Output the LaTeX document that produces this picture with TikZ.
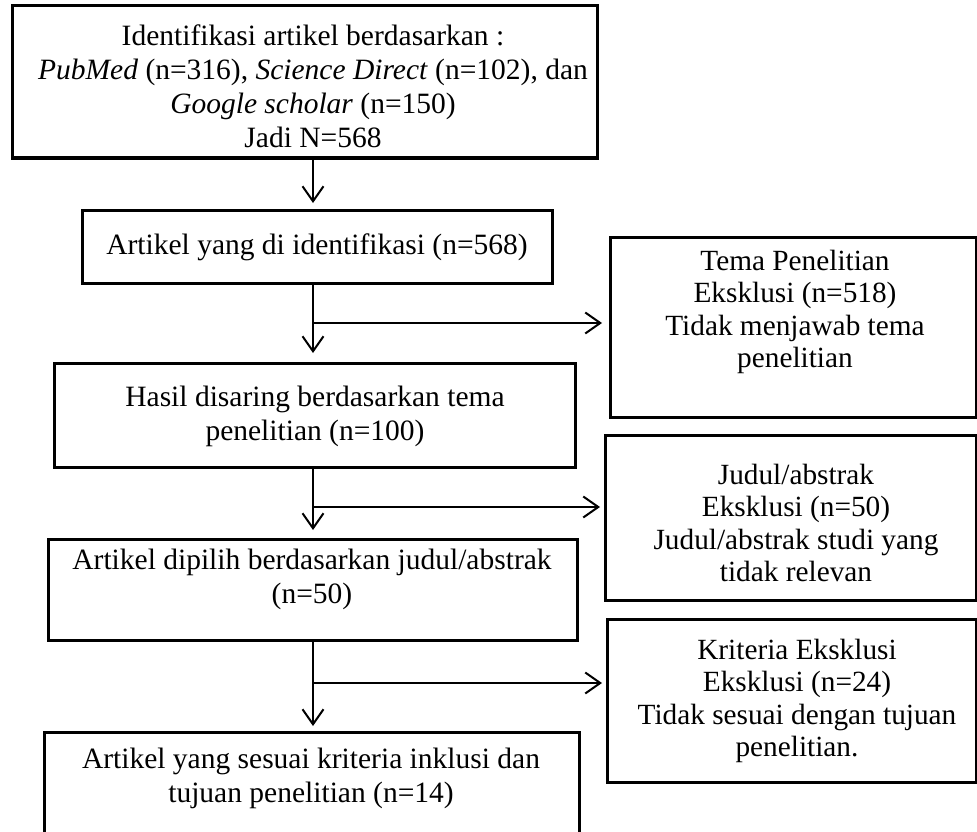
\documentclass[tikz,border=0pt]{standalone}
\usepackage{fontspec}
\setmainfont{Liberation Serif}
\usetikzlibrary{arrows.meta}
\begin{document}
\begin{tikzpicture}[x=1pt,y=-1pt,
  boxr/.style={draw,line width=3pt,inner sep=0pt,outer sep=0pt,anchor=north west},
  txt/.style={align=center,inner sep=0pt,font=\fontsize{29.5pt}{34pt}\selectfont},
  txtr/.style={align=center,inner sep=0pt,font=\fontsize{29.3pt}{32.5pt}\selectfont},
  arr/.style={line width=2pt,-{Straight Barb[length=15pt,width=21pt,line width=2pt]}}]
\clip (0,0) rectangle (977,832);
\fill[white] (0,0) rectangle (977,832);
% left column boxes
\node[boxr,minimum width=585pt,minimum height=152pt] (b1) at (12,6) {};
\node[boxr,minimum width=470pt,minimum height=73pt] (b2) at (82,210) {};
\node[boxr,minimum width=521pt,minimum height=104pt] (b3) at (54,363) {};
\node[boxr,minimum width=529pt,minimum height=101pt] (b4) at (48,539) {};
\node[boxr,minimum width=535pt,minimum height=140pt] (b5) at (44,732) {};
% right column boxes
\node[boxr,minimum width=366pt,minimum height=180pt] (r1) at (610,237) {};
\node[boxr,minimum width=371pt,minimum height=165pt] (r2) at (605,435) {};
\node[boxr,minimum width=369pt,minimum height=163pt] (r3) at (607,619) {};
% texts
\node[txt] (t1) at (313,86) {Identifikasi artikel berdasarkan :\\
  \textit{PubMed} (n=316), \textit{Science Direct} (n=102), dan\\
  \textit{Google scholar} (n=150)\\ Jadi N=568};
\node[txt] (t2) at (317,247) {Artikel yang di identifikasi (n=568)};
\node[txt] (t3) at (315,416) {Hasil disaring berdasarkan tema\\ penelitian (n=100)};
\node[txt] (t4) at (312,579) {Artikel dipilih berdasarkan judul/abstrak\\ (n=50)};
\node[txt] (t5) at (311,778) {Artikel yang sesuai kriteria inklusi dan\\ tujuan penelitian (n=14)};
\node[txtr] (u1) at (795,312) {Tema Penelitian\\ Eksklusi (n=518)\\ Tidak menjawab tema\\ penelitian};
\node[txtr] (u2) at (796,523) {Judul/abstrak\\ Eksklusi (n=50)\\ Judul/abstrak studi yang\\ tidak relevan};
\node[txtr] (u3) at (797,701) {Kriteria Eksklusi\\ Eksklusi (n=24)\\ Tidak sesuai dengan tujuan\\ penelitian.};
% spine and junctions
\coordinate (sp) at (313,0);
\coordinate (j1) at (313,323);
\coordinate (j2) at (313,507);
\coordinate (j3) at (313,683);
% connectors
\draw[arr,shorten >=7pt] (b1.south -| sp) -- (b2.north -| sp);
\draw[arr,shorten >=10pt] (b2.south -| sp) -- (b3.north -| sp);
\draw[arr,shorten >=9pt] (b3.south -| sp) -- (b4.north -| sp);
\draw[arr,shorten >=6pt] (b4.south -| sp) -- (b5.north -| sp);
\draw[arr,shorten >=8pt] (j1) -- (j1 -| r1.west);
\draw[arr,shorten >=5pt] (j2) -- (j2 -| r2.west);
\draw[arr,shorten >=5pt] (j3) -- (j3 -| r3.west);
\end{tikzpicture}
\end{document}
